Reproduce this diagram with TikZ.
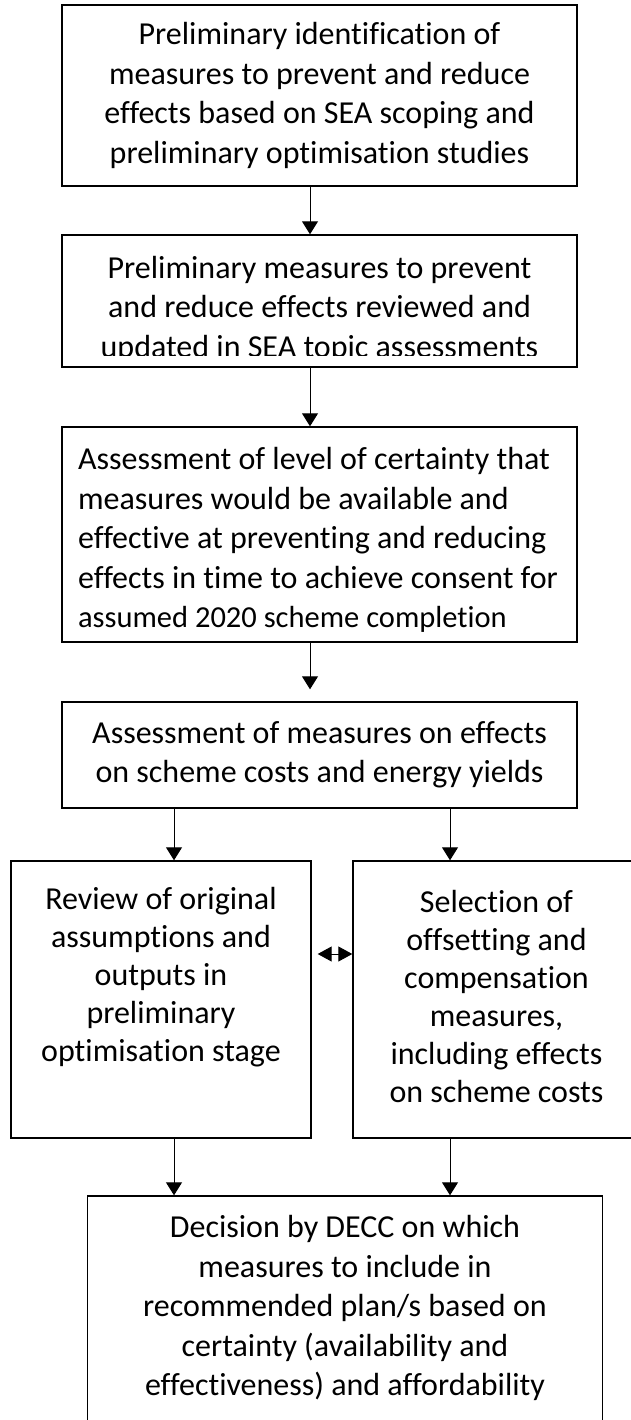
\documentclass[tikz,border=0pt]{standalone}
\usepackage{fontspec}
\setmainfont{Carlito}[Ligatures=NoCommon]
\usetikzlibrary{arrows.meta}
\begin{document}
\begin{tikzpicture}[x=1pt,y=-1pt,
  box/.style={draw=black,line width=1.4pt,rectangle,inner sep=0pt,
    font=\fontsize{32}{39.5}\selectfont,align=center},
  label/.style={inner sep=0pt,font=\fontsize{32}{39.5}\selectfont,align=center},
  flow/.style={draw=black,line width=1pt,-{Triangle[length=13pt,width=16pt]}},
  twoway/.style={draw=black,line width=1pt,
    {Triangle[length=14pt,width=15pt]}-{Triangle[length=14pt,width=15pt]}}]
\useasboundingbox (0,0) rectangle (630,1420);

% vertical guide lines for the connectors
\coordinate (mx) at (310,0);
\coordinate (lx) at (174,0);
\coordinate (rx) at (450,0);
\coordinate (dy) at (0,954);

% main column
\node[box,minimum width=515pt,minimum height=181pt] (b1) at (319.5,95.5)
  {Preliminary identification of\\measures to prevent and reduce\\effects based on SEA scoping and\\preliminary optimisation studies};

\node[box,minimum width=515pt,minimum height=132pt] (b2) at (319.5,301) {};
\begin{scope}
  \clip (62,235) rectangle (577,355);
  \node[label] (t2) at (319.5,309)
    {Preliminary measures to prevent\\and reduce effects reviewed and\\updated in SEA topic assessments};
\end{scope}

\node[box,align=left,minimum width=515pt,minimum height=215pt] (b3) at (319.5,534.5) {};
\node[label,align=left] (t3) at (318,540)
  {Assessment of level of certainty that\\measures would be available and\\effective at preventing and reducing\\effects in time to achieve consent for\\{\fontsize{30.5}{39.5}\selectfont assumed 2020 scheme completion}};

\node[box,minimum width=515pt,minimum height=106pt] (b4) at (319.5,755)
  {Assessment of measures on effects\\on scheme costs and energy yields};

% two parallel steps
\node[box,minimum width=300pt,minimum height=277pt] (bl) at (161,999.5) {};
\node[label,font=\fontsize{32}{38}\selectfont] (tl) at (161,977)
  {Review of original\\assumptions and\\outputs in\\preliminary\\optimisation stage};
\node[box,minimum width=287pt,minimum height=277pt] (br) at (496.5,999.5) {};
\node[label,font=\fontsize{32}{38}\selectfont] (tr) at (496.5,996)
  {Selection of\\offsetting and\\compensation\\measures,\\including effects\\on scheme costs};

% final decision
\node[box,minimum width=514.5pt,minimum height=250pt] (b5) at (345,1321) {};
\node[label] (t5) at (345,1308)
  {Decision by DECC on which\\measures to include in\\recommended plan/s based on\\certainty (availability and\\effectiveness) and affordability};

% connectors
\draw[flow] (b1.south -| mx) -- (b2.north -| mx);
\draw[flow] (b2.south -| mx) -- (b3.north -| mx);
\draw[flow,shorten >=12pt] (b3.south -| mx) -- (b4.north -| mx);
\draw[flow] (b4.south -| lx) -- (bl.north -| lx);
\draw[flow] (b4.south -| rx) -- (br.north -| rx);
\draw[flow] (bl.south -| lx) -- (b5.north -| lx);
\draw[flow] (br.south -| rx) -- (b5.north -| rx);
\draw[twoway,shorten <=6pt] (bl.east |- dy) -- (br.west |- dy);
\end{tikzpicture}
\end{document}
